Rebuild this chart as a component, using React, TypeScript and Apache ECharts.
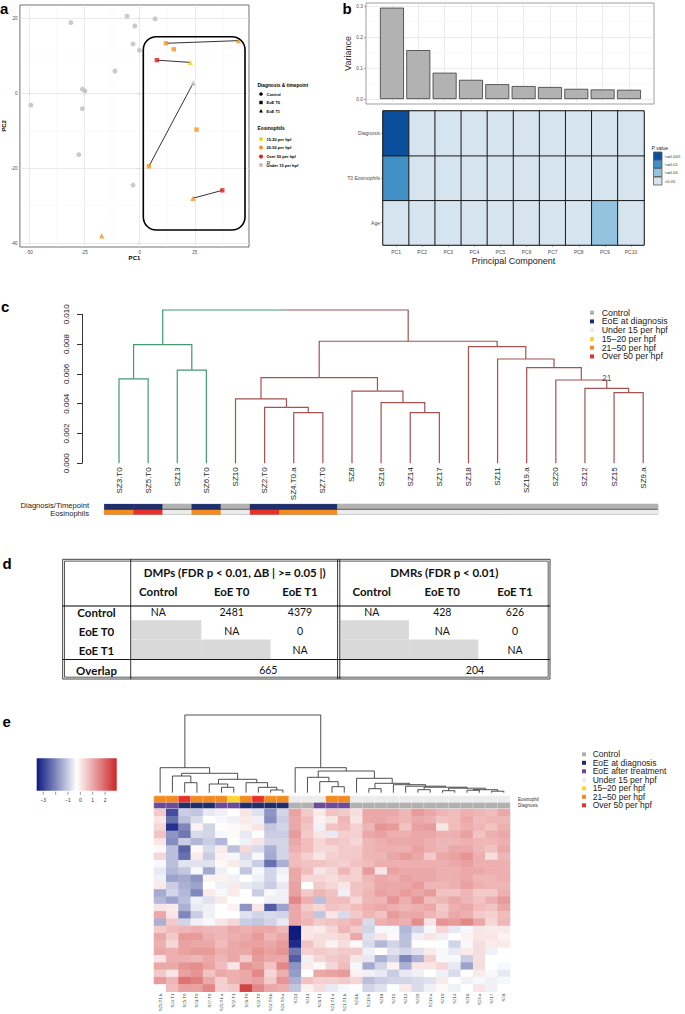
import React, { useEffect, useRef } from "react";
import * as echarts from "echarts";

const FONT = '"Liberation Sans", Arial, Helvetica, sans-serif';
const TFONT = 'Lato, "Open Sans", "Liberation Sans", sans-serif';

// ================= Panel a : PCA =================
const pcaPC1 = [-31.2, -5.7, 7.0, -2.2, -3.0, -0.1, -11.2, -26.0, -24.8, -49.3, -26.0, -27.6, -3.0, 11.9, 15.5, 25.8, 4.2, 7.8, 37.5, 44.8, 23.0, 24.2, -17.2, 24.3];
const pcaPC2 = [18.8, 20.5, 19.8, 17.9, 13.1, 11.4, 5.9, 1.1, 0.6, -3.2, -4.1, -16.4, -24.5, 13.3, 11.7, -9.7, -19.5, 8.8, -25.9, 14.0, 8.2, -28.0, -38.0, 2.7];
const pcaDiagnosis = [
  "Control", "Control", "Control", "Control", "Control", "Control", "Control", "Control", "Control", "Control", "Control", "Control", "Control",
  "EoE T0", "EoE T0", "EoE T0", "EoE T0", "EoE T0", "EoE T0",
  "EoE T1", "EoE T1", "EoE T1", "EoE T1", "EoE T1",
];
const pcaEosinophils = [
  "Under 15 per hpf", "Under 15 per hpf", "Under 15 per hpf", "Under 15 per hpf", "Under 15 per hpf", "Under 15 per hpf", "Under 15 per hpf",
  "Under 15 per hpf", "Under 15 per hpf", "Under 15 per hpf", "Under 15 per hpf", "Under 15 per hpf", "Under 15 per hpf",
  "20-50 per hpf", "20-50 per hpf", "20-50 per hpf", "20-50 per hpf", "Over 50 per hpf", "Over 50 per hpf",
  "20-50 per hpf", "15-20 per hpf", "20-50 per hpf", "20-50 per hpf", "Under 15 per hpf",
];
const pcaLinks = [[13, 19], [17, 20], [16, 23], [18, 21]];
const pcaXTicks = [-50, -25, 0, 25];
const pcaYTicks = [-40, -20, 0, 20];
const pcaDiagLevels = ["Control", "EoE T0", "EoE T1"];
const pcaEosLevels = ["15-20 per hpf", "20-50 per hpf", "Over 50 per hpf", "Under 15 per hpf"];
const eosColorA: Record<string, string> = {
  "15-20 per hpf": "#f3d21b",
  "20-50 per hpf": "#f7941d",
  "Over 50 per hpf": "#e31e1e",
  "Under 15 per hpf": "#bebebe",
};
const diagSymbolA: Record<string, string> = { Control: "circle", "EoE T0": "rect", "EoE T1": "triangle" };

// ================= Panel b : variance + association =================
const pcNames = ["PC1", "PC2", "PC3", "PC4", "PC5", "PC6", "PC7", "PC8", "PC9", "PC10"];
const pcVariance = [0.295, 0.158, 0.085, 0.062, 0.048, 0.042, 0.039, 0.033, 0.031, 0.030];
const varTicks = [0, 0.1, 0.2, 0.3];
const covariates = ["Age", "T0 Eosinophils", "Diagnosis"]; // bottom -> top
const pClassAge = [3, 3, 3, 3, 3, 3, 3, 3, 2, 3];
const pClassEos = [1, 3, 3, 3, 3, 3, 3, 3, 3, 3];
const pClassDiag = [0, 3, 3, 3, 3, 3, 3, 3, 3, 3];
const pLevels = ["<=0.005", "<=0.01", "<=0.05", ">0.05"];
const pColors = ["#0b4f9c", "#4090c5", "#93c3df", "#d5e4ef"];

// ================= Panel c : dendrogram =================
const cLeaves = ["SZ3.T0", "SZ5.T0", "SZ13", "SZ6.T0", "SZ10", "SZ2.T0", "SZ4.T0.a", "SZ7.T0", "SZ8", "SZ16", "SZ14", "SZ17", "SZ18", "SZ11", "SZ19.a", "SZ20", "SZ12", "SZ15", "SZ9.a"];
// hclust style merges: negative = leaf (-(i+1)), positive = earlier merge (1-based)
const cMerges: [number, number, number][] = [
  [-1, -2, 0.00566], [-3, -4, 0.00626], [1, 2, 0.00796],
  [-7, -8, 0.0034], [-6, 4, 0.00376], [-5, 5, 0.00432],
  [-11, -12, 0.0034], [-10, 7, 0.00407], [-9, 8, 0.00485], [6, 9, 0.00575],
  [-18, -19, 0.00474], [-17, 11, 0.00503], [-16, 12, 0.00559], [-15, 13, 0.00642], [-14, 14, 0.007], [-13, 15, 0.00783],
  [10, 16, 0.00819], [3, 17, 0.01029],
];
const cLeafCluster = ["g", "g", "g", "g", "r", "r", "r", "r", "r", "r", "r", "r", "r", "r", "r", "r", "r", "r", "r"];
const cNodeLabelMerge = 12;
const cNodeLabelText = "21";
const cDiagnosis = ["EoE at diagnosis", "EoE at diagnosis", "Control", "EoE at diagnosis", "Control", "EoE at diagnosis", "EoE at diagnosis", "EoE at diagnosis",
  "Control", "Control", "Control", "Control", "Control", "Control", "Control", "Control", "Control", "Control", "Control"];
const cEosinophils = ["21–50 per hpf", "Over 50 per hpf", "Under 15 per hpf", "21–50 per hpf", "Under 15 per hpf", "Over 50 per hpf", "21–50 per hpf", "21–50 per hpf",
  "Under 15 per hpf", "Under 15 per hpf", "Under 15 per hpf", "Under 15 per hpf", "Under 15 per hpf", "Under 15 per hpf", "Under 15 per hpf", "Under 15 per hpf",
  "Under 15 per hpf", "Under 15 per hpf", "Under 15 per hpf"];
const cBarRows = ["Eosinophils", "Diagnosis/Timepoint"]; // bottom -> top
const cLegendNames = ["Control", "EoE at diagnosis", "Under 15 per hpf", "15–20 per hpf", "21–50 per hpf", "Over 50 per hpf"];
const annNames = ["Control", "EoE at diagnosis", "EoE after treatment", "Under 15 per hpf", "15–20 per hpf", "21–50 per hpf", "Over 50 per hpf"];
const annColors = ["#b1b1b1", "#1f2e6c", "#6b4b9b", "#ececec", "#ffd52e", "#f58b1e", "#e7312a"];

// ================= Panel d : table =================
const tSections = ["DMPs (FDR p < 0.01, ΔB | >= 0.05 |)", "DMRs (FDR p < 0.01)"];
const tGroups = ["Control", "EoE T0", "EoE T1"];
const tDMP = [["NA", "2481", "4379"], ["", "NA", "0"], ["", "", "NA"]];
const tDMR = [["NA", "428", "626"], ["", "NA", "0"], ["", "", "NA"]];
const tOverlap = ["665", "204"];

// ================= Panel e : heatmap =================
const eSamples = ["SZ5.T1.b", "SZ4.T1", "SZ5.T0", "SZ3.T0", "SZ7.T0", "SZ5.T1.a", "SZ2.T1", "SZ6.T0", "SZ2.T0", "SZ4.T0.b", "SZ4.T0.a",
  "SZ11", "SZ13", "SZ6.T1", "SZ1.T1.a", "SZ1.T1.b", "SZ8.b", "SZ19.b", "SZ18", "SZ15", "SZ12", "SZ20", "SZ19.a", "SZ10", "SZ14", "SZ16", "SZ9.a", "SZ17", "SZ8"];
const eDiagnosis = ["EoE after treatment", "EoE after treatment", "EoE at diagnosis", "EoE at diagnosis", "EoE at diagnosis", "EoE after treatment", "EoE after treatment",
  "EoE at diagnosis", "EoE at diagnosis", "EoE at diagnosis", "EoE at diagnosis", "Control", "Control", "EoE after treatment", "EoE after treatment", "EoE after treatment",
  "Control", "Control", "Control", "Control", "Control", "Control", "Control", "Control", "Control", "Control", "Control", "Control", "Control"];
const eEosinophil = ["21–50 per hpf", "21–50 per hpf", "Over 50 per hpf", "21–50 per hpf", "21–50 per hpf", "21–50 per hpf", "15–20 per hpf", "21–50 per hpf",
  "Over 50 per hpf", "21–50 per hpf", "21–50 per hpf", "Under 15 per hpf", "Under 15 per hpf", "Under 15 per hpf", "21–50 per hpf", "21–50 per hpf",
  "Under 15 per hpf", "Under 15 per hpf", "Under 15 per hpf", "Under 15 per hpf", "Under 15 per hpf", "Under 15 per hpf", "Under 15 per hpf", "Under 15 per hpf",
  "Under 15 per hpf", "Under 15 per hpf", "Under 15 per hpf", "Under 15 per hpf", "Under 15 per hpf"];
const eAnnRows = ["Diagnosis", "Eosinophil"]; // bottom -> top
const eLegendNames = ["Control", "EoE at diagnosis", "EoE after treatment", "Under 15 per hpf", "15–20 per hpf", "21–50 per hpf", "Over 50 per hpf"];
// one array of 25 probe values per sample (column), top row first
const eHeat: number[][] = [
  [0.5, 0.1, 0.3, 0.6, 0.1, -0.2, 0.3, -0.4, -0.6, -0.5, 0.0, -1.5, -1.3, 0.1, 1.0, -1.4, 0.5, 1.0, 0.9, 1.0, 0.1, 1.0, 0.5, 1.2, -0.3],
  [-2.8, -2.3, -3.2, -1.8, -1.9, -1.2, -1.2, -1.2, -1.3, -1.6, -1.0, -0.9, -1.6, 0.0, 0.1, 0.5, 0.7, 0.5, 0.3, 0.9, 0.9, 1.0, 0.1, 0.8, 0.7],
  [-1.0, -1.2, -2.0, -2.2, -1.0, -2.5, -2.3, -0.7, -1.1, -1.5, -1.4, -1.3, -1.2, -1.4, -2.0, -0.9, 0.8, 1.2, 1.1, 1.1, 0.9, 1.3, 1.1, 1.8, 1.1],
  [-1.1, -0.8, -0.1, -0.8, -1.3, -0.2, 0.0, -0.7, -0.4, -1.8, -1.6, -2.0, -0.5, -0.6, -1.0, -0.5, 0.9, 1.2, 1.0, 1.2, 0.8, 1.4, 1.3, 1.6, 1.1],
  [-0.6, -0.3, -0.9, -0.9, -1.0, -0.8, -1.0, -0.7, -1.5, -0.1, -0.3, 0.0, -0.7, -0.5, -0.5, -0.4, 0.8, 0.9, 1.0, 1.2, 1.0, 1.1, 0.6, 1.0, 1.5],
  [-0.5, -0.4, -0.3, -0.4, -1.3, 0.0, -0.1, -0.2, -0.5, -0.1, -0.5, -0.4, 0.0, -0.3, -0.3, 0.1, 0.8, 0.8, 0.7, 0.9, 0.8, 0.7, 1.0, 0.4, 0.4],
  [-0.3, -0.5, -0.2, -0.2, -0.3, -1.2, -0.4, 0.0, -0.3, -0.5, 0.0, 0.0, -0.3, -0.1, -0.3, 0.3, 1.0, 0.9, 1.0, 1.0, 1.0, 0.1, 0.9, 0.9, 0.5],
  [0.1, 0.0, -0.1, -0.6, -0.5, 0.3, -0.8, -0.6, -1.1, -0.3, -0.6, -0.3, -0.3, -1.8, -0.7, -1.0, 0.9, 1.0, 1.1, 1.0, 0.5, 1.3, 1.0, 1.0, 2.5],
  [-0.7, -0.5, 0.1, -0.3, 0.1, -0.8, -0.4, -1.0, -0.4, -0.5, -0.7, -1.0, -0.3, 0.1, -0.9, -1.1, 1.0, 1.2, 1.1, 1.3, 1.2, 1.1, 1.5, 1.1, 1.5],
  [-1.8, -1.9, -1.1, -1.0, -0.9, -1.4, -1.5, -2.3, -0.9, -0.9, -1.0, -0.4, -0.5, -2.6, -0.8, -0.9, 1.0, 0.8, 1.0, 1.1, 1.0, 0.6, 0.3, 0.5, 1.0],
  [-0.9, -1.0, -0.9, -1.0, -0.9, -0.9, -0.9, -1.4, -0.5, -0.4, -0.6, -0.5, -0.5, -1.6, -0.9, -0.6, 0.8, 1.0, 1.2, 1.3, 1.0, 1.5, 0.9, 1.3, 0.9],
  [1.1, 1.0, 1.0, 1.2, 1.0, 0.9, 0.7, 0.7, 1.0, 1.0, 1.1, 1.1, 1.5, 1.0, 1.0, 1.0, -3.6, -3.5, -3.3, -2.2, -2.6, -1.8, -1.7, -1.4, -1.1],
  [0.5, 0.7, 0.6, 0.5, 0.7, 0.7, 0.4, 0.6, 0.7, 0.3, -0.3, 0.5, 0.9, 0.5, 0.7, 0.8, 0.1, 0.1, 0.6, 0.4, -0.5, 0.0, -0.3, 0.6, -0.1],
  [0.0, -0.1, -0.5, 0.1, 0.3, 0.3, 0.1, 0.6, 0.1, 0.3, 0.5, 0.8, -1.2, 0.3, -1.1, 0.5, 0.0, 0.2, 0.2, 0.5, 0.3, -0.2, 1.0, 0.4, 0.2],
  [0.6, 0.1, 0.6, -0.6, 0.6, 0.3, 0.4, 0.5, 0.3, 0.2, 0.3, 0.6, 0.7, 0.6, 0.1, 0.6, 0.3, 0.2, -0.1, 0.4, 0.5, 0.3, 1.1, 0.4, -0.6],
  [0.5, 0.8, 0.7, 0.4, 0.5, 0.5, 0.5, 0.4, 0.8, 0.4, 0.1, -0.5, 0.7, 0.5, -0.8, 0.7, 0.8, 0.3, 0.2, 0.5, 0.6, 0.7, 1.2, 0.5, -0.4],
  [0.2, 0.1, 0.4, 0.4, 0.3, 0.5, 0.5, 0.6, 0.4, 0.4, 0.6, 0.6, 0.3, 0.7, 0.5, 0.9, 0.5, 1.0, -0.2, 0.5, 0.1, -0.4, -0.1, 0.3, -0.3],
  [1.0, 1.0, 0.8, 1.0, 0.8, 0.8, 0.8, 0.7, 1.2, 0.8, 0.7, 0.8, 0.8, 0.9, 0.8, -0.8, -0.9, -0.7, -0.8, -0.5, -0.6, -1.5, -0.5, -1.2, -0.9],
  [1.0, 1.0, 1.3, 1.1, 0.9, 0.9, 0.8, 0.9, 0.1, 1.0, 1.0, 1.1, 0.8, 1.0, 0.6, 0.9, -0.4, 0.1, -1.3, -0.3, -1.4, -0.9, -0.6, -1.0, -0.7],
  [1.0, 0.9, 1.2, 0.9, 1.0, 0.9, 1.0, 0.9, 1.1, 0.9, 1.0, 1.0, 1.3, 0.9, 1.2, 1.0, -0.4, -0.2, -0.9, -0.7, -1.0, -0.1, -1.0, -0.9, -0.3],
  [0.8, 0.8, 0.6, 0.9, 1.0, 0.9, 1.2, 0.9, 1.0, 1.1, 1.0, 1.2, 0.9, 0.8, 1.0, 0.9, -1.3, -1.2, -1.2, -0.9, -2.0, -1.4, -0.6, -0.9, 0.0],
  [1.2, 1.0, 1.1, 1.0, 1.0, 1.1, 1.0, 0.9, 1.0, 1.0, 1.2, 1.0, 1.3, 0.9, 1.0, 1.4, -0.9, -0.5, -0.3, -0.7, -1.4, 0.1, -0.5, -0.8, -0.8],
  [1.0, 0.9, 1.2, 1.0, 0.9, 0.9, 0.5, 0.9, 1.0, 1.0, 0.8, 1.2, 0.7, 1.0, 0.8, 0.1, -0.4, 0.1, -0.3, 0.0, 0.4, 0.1, -0.3, -0.7, -0.5],
  [0.8, 0.6, 0.1, 0.9, 0.8, 0.8, 1.0, 0.9, 0.9, 0.9, 0.8, 0.6, 0.8, 0.5, 0.6, 1.3, 0.3, -0.5, -0.3, -0.4, -0.4, 0.3, -0.5, 0.0, -0.2],
  [0.7, 0.7, 0.7, 0.9, 0.8, 1.0, 1.1, 1.0, 0.9, 0.9, 0.9, 0.6, 1.0, 0.9, 1.0, 1.2, -0.6, -0.3, -0.9, -0.6, -0.4, -0.6, -0.8, -0.3, -0.5],
  [0.9, 1.0, 0.9, 1.1, 0.9, 1.0, 1.3, 1.1, 1.0, 1.0, 1.1, 0.8, 0.8, 1.0, 0.9, 1.5, -0.4, -0.1, -0.4, 0.0, -1.0, -1.6, -0.3, -0.5, -0.3],
  [0.8, 0.7, 0.8, 0.6, 0.8, 0.8, 0.9, 0.9, 1.0, 0.8, 0.9, 0.5, 0.6, 0.7, 0.5, 1.0, 0.1, 0.1, 0.2, 0.2, 0.2, 0.2, 0.0, -0.4, 0.1],
  [0.7, 0.8, 0.6, 0.9, 0.8, 0.6, 0.2, 0.9, 0.9, 0.8, 0.8, 0.5, 0.9, 0.6, 0.4, 0.3, 0.0, 0.1, 0.0, -0.5, -0.3, -0.3, -0.4, -0.5, -0.5],
  [1.0, 0.8, 0.9, 1.0, 0.9, 1.0, 0.8, 0.9, 0.9, 0.9, 0.8, 0.9, 1.2, 1.0, 0.7, 0.8, 0.0, -0.1, 0.0, -0.3, -0.3, -0.4, -0.6, -0.4, -0.3],
];
// column dendrogram (leaf -1 = SZ5.T1.b ... -29 = SZ8), heights in key units
const eColMerges: [number, number, number][] = [
  [-10, -11, 2.7], [-9, 1, 5.4], [-8, 2, 10], [-6, -7, 5.4], [-5, 4, 8.7], [5, 3, 13.4], [-3, -4, 10], [-2, 7, 16.7], [8, 6, 19.4], [-1, 9, 25],
  [-15, -16, 6], [-14, 11, 11], [-13, 12, 15.4],
  [-18, -19, 4], [-22, -23, 3], [-24, -25, 2], [-26, -27, 2.5], [-28, -29, 1.5], [17, 18, 3], [16, 19, 4.5], [15, 20, 5.5], [-21, 21, 6.5], [-20, 22, 8],
  [14, 23, 9.4], [-17, 24, 14.4], [13, 25, 21.7], [-12, 26, 25], [10, 27, 77.7],
];
const eKeyTicks = [-3, -2, -1, 0, 1, 2];
const eKeyLabels = ["−3", "", "−1", "0", "1", "2"];
const eMin = -3.53;
const eMax = 2.94;

// ---------- helpers ----------
function dendro(merges: [number, number, number][], leafColor: (i: number) => string) {
  const nodes: { x: number; h: number; c: string }[] = [];
  const get = (r: number) => (r < 0 ? { x: -r - 1, h: 0, c: leafColor(-r - 1) } : nodes[r - 1]);
  const segs: any[] = [];
  merges.forEach(([a, b, h]) => {
    const A = get(a);
    const B = get(b);
    const x = (A.x + B.x) / 2;
    segs.push({ coords: [[A.x, A.h], [A.x, h], [x, h]], lineStyle: { color: A.c } });
    segs.push({ coords: [[x, h], [B.x, h], [B.x, B.h]], lineStyle: { color: B.c } });
    nodes.push({ x, h, c: A.c === B.c ? A.c : "#333" });
  });
  return { nodes, segs };
}

function gridMarks(xMaj: number[], xMin: number[], yMaj: number[], yMin: number[]) {
  const maj = { color: "#e2e2e2", width: 0.7, type: "solid" };
  const mn = { color: "#f0f0f0", width: 0.4, type: "solid" };
  return [
    ...xMaj.map((v) => ({ xAxis: v, lineStyle: maj })),
    ...xMin.map((v) => ({ xAxis: v, lineStyle: mn })),
    ...yMaj.map((v) => ({ yAxis: v, lineStyle: maj })),
    ...yMin.map((v) => ({ yAxis: v, lineStyle: mn })),
  ];
}

function buildOption() {
  const g: any[] = [];
  const txt = (x: number, y: number, text: string, st: any = {}) =>
    g.push({ type: "text", x, y, silent: true, z: 50, style: { text, fontFamily: FONT, fontSize: 8, fill: "#000", align: "left", verticalAlign: "middle", ...st } });
  const rect = (x: number, y: number, w: number, h: number, st: any) =>
    g.push({ type: "rect", silent: true, z: 40, shape: { x, y, width: w, height: h }, style: st });
  const line = (x1: number, y1: number, x2: number, y2: number, st: any) =>
    g.push({ type: "line", silent: true, z: 45, shape: { x1, y1, x2, y2 }, style: { stroke: "#000", lineWidth: 0.8, ...st } });
  const annColor = (n: string) => annColors[annNames.indexOf(n)];

  // panel letters
  const letter = { fontSize: 15, fontWeight: "bold", verticalAlign: "bottom", fontFamily: FONT };
  txt(0, 16, "a", letter);
  txt(342.5, 16, "b", letter);
  txt(1, 314, "c", letter);
  txt(2.5, 571, "d", letter);
  txt(2.5, 729, "e", letter);

  // ---- panel a legend & box ----
  txt(257.5, 85, "Diagnosis & timepoint", { fontSize: 4.8, fontWeight: "bold" });
  const aSymY = [94, 102.5, 111];
  g.push({ type: "circle", silent: true, z: 40, shape: { cx: 261, cy: aSymY[0], r: 1.8 }, style: { fill: "#000" } });
  rect(259.3, aSymY[1] - 1.7, 3.4, 3.4, { fill: "#000" });
  g.push({ type: "polygon", silent: true, z: 40, shape: { points: [[261, aSymY[2] - 2], [259, aSymY[2] + 1.5], [263, aSymY[2] + 1.5]] }, style: { fill: "#000" } });
  pcaDiagLevels.forEach((n, i) => txt(266.5, aSymY[i], n, { fontSize: 4, fontWeight: "bold" }));
  txt(257.5, 128.5, "Eosinophils", { fontSize: 4.8, fontWeight: "bold" });
  const aEosY = [139, 147.5, 156.5, 165];
  pcaEosLevels.forEach((n, i) => {
    g.push({ type: "circle", silent: true, z: 40, shape: { cx: 261, cy: aEosY[i], r: 2 }, style: { fill: eosColorA[n] } });
    txt(266.5, aEosY[i], n, { fontSize: 4, fontWeight: "bold" });
  });
  txt(266.8, 162.3, "21", { fontSize: 3, fontWeight: "bold" });
  g.push({ type: "rect", silent: true, z: 30, shape: { x: 143.3, y: 36.7, width: 101.7, height: 193.3, r: 13 }, style: { fill: "none", stroke: "#000", lineWidth: 1.6 } });

  // ---- panel b p-value legend ----
  txt(651.5, 147.5, "P value", { fontSize: 5, fill: "#222" });
  const keyY = [152, 160, 168.5, 177];
  pLevels.forEach((n, i) => {
    rect(653.5, keyY[i], 8.5, 8, { fill: pColors[i], stroke: "#555", lineWidth: 0.8 });
    txt(664.5, keyY[i] + 4, n, { fontSize: 4.3, fill: "#333" });
  });

  // ---- panel c legend & bar labels ----
  cLegendNames.forEach((n, i) => {
    const y = 312.7 + i * 8.75;
    rect(590, y - 2, 4, 4, { fill: annColor(n) });
    txt(601.7, y, n, { fontSize: 8.8, fill: "#222" });
  });
  line(104.45, 509.3, 657.7, 509.3, { stroke: "#333", lineWidth: 0.7 });
  txt(89, 505.2, cBarRows[1], { fontSize: 7.6, align: "right", fill: "#222" });
  txt(89, 513, cBarRows[0], { fontSize: 7.6, align: "right", fill: "#222" });

  // ---- panel d table ----
  const X0 = 62.7, X1 = 130.7, X4 = 338.7, X7 = 550, Y0 = 559.3, Y2 = 606, Y5 = 659.5, Y6 = 679;
  const subEdges = [[130.7, 200.7, 270, 338.7], [340, 408.3, 477.7, 550]];
  const rowEdges = [606, 620.3, 639.5, 659.5];
  const subX = [[158.3, 231.7, 300], [371.7, 442.3, 515]];
  const rowY = [612, 631, 650];
  const bold = { fontFamily: TFONT, fontSize: 11.5, fontWeight: "bold", align: "center", fill: "#111" };
  const reg = { fontFamily: TFONT, fontSize: 10.5, align: "center", fill: "#111" };
  [tDMP, tDMR].forEach((tab, s) => {
    tab.forEach((row, r) =>
      row.forEach((v, c) => {
        if (v === "") rect(subEdges[s][c] + 0.6, rowEdges[r], subEdges[s][c + 1] - subEdges[s][c], rowEdges[r + 1] - rowEdges[r], { fill: "#d9d9d9" });
        else txt(subX[s][c], rowY[r], v, reg);
      })
    );
    tGroups.forEach((n, c) => txt(subX[s][c], 591.5, n, bold));
  });
  txt(234.7, 572.5, tSections[0], bold);
  txt(444.3, 572.5, tSections[1], bold);
  tGroups.forEach((n, r) => txt(96.5, rowY[r], n, bold));
  txt(96.5, 670, "Overlap", bold);
  txt(268.3, 670, tOverlap[0], reg);
  txt(475, 670, tOverlap[1], reg);
  rect(X0, Y0, X7 - X0, Y6 - Y0, { fill: "none", stroke: "#111", lineWidth: 0.8 });
  rect(X0 + 1.8, Y0 + 1.8, X7 - X0 - 3.6, Y6 - Y0 - 3.6, { fill: "none", stroke: "#111", lineWidth: 0.7 });
  line(X1, Y0, X1, Y6, {});
  line(X4 - 1.1, Y0, X4 - 1.1, Y6, {});
  line(X4 + 1.1, Y0, X4 + 1.1, Y6, {});
  line(X0, Y2, X7, Y2, { lineWidth: 1.1 });
  line(X0, Y5, X7, Y5, { lineWidth: 0.9 });

  // ---- panel e colour key ----
  const kx0 = 36.7, kw = 80, ky0 = 758.3, kh = 32.4;
  g.push({
    type: "rect", silent: true, z: 40, shape: { x: kx0, y: ky0, width: kw, height: kh },
    style: { fill: new echarts.graphic.LinearGradient(0, 0, 1, 0, [{ offset: 0, color: "#0c1a80" }, { offset: 0.5, color: "#ffffff" }, { offset: 1, color: "#cd2626" }]) },
  });
  eKeyTicks.forEach((v, i) => {
    const x = kx0 + ((v - eMin) / (eMax - eMin)) * kw;
    line(x, ky0 + kh + 1, x, ky0 + kh + 4, { stroke: "#333", lineWidth: 0.5 });
    if (eKeyLabels[i]) txt(x, 800, eKeyLabels[i], { fontSize: 5, align: "center", fill: "#333" });
  });
  eLegendNames.forEach((n, i) => {
    const y = 754.3 + i * 8.5;
    rect(582, y - 2, 4, 4, { fill: annColor(n) });
    txt(592.7, y, n, { fontSize: 8.5, fill: "#222" });
  });

  // ================= axes / grids / series =================
  const grids = [
    { left: 17, top: 5, width: 232, height: 242, show: true, borderColor: "#333", borderWidth: 0.7, backgroundColor: "transparent" }, // 0 a
    { left: 366, top: 3, width: 288, height: 101, show: true, borderColor: "#777", borderWidth: 0.7, backgroundColor: "transparent" }, // 1 b bars
    { left: 383, top: 111, width: 261, height: 134, show: true, borderColor: "#555", borderWidth: 1 }, // 2 b heat
    { left: 104.45, top: 314.3, width: 553.3, height: 149 }, // 3 c dendro
    { left: 104.45, top: 504.3, width: 553.3, height: 10, show: true, borderColor: "#444", borderWidth: 0.6 }, // 4 c bars
    { left: 154, top: 796, width: 356, height: 12.3 }, // 5 e ann
    { left: 154, top: 809, width: 356, height: 182.8 }, // 6 e heat
    { left: 154, top: 715, width: 356, height: 77.7 }, // 7 e dendro
  ];
  const tickLab = { fontSize: 4.5, color: "#4d4d4d", fontFamily: FONT };
  const xAxis: any[] = [
    {
      gridIndex: 0, type: "value", min: -54.3, max: 49.6, axisLine: { show: false }, splitLine: { show: false },
      axisTick: { show: true, customValues: pcaXTicks, length: 2, lineStyle: { color: "#333", width: 0.5 } },
      axisLabel: { customValues: pcaXTicks, ...tickLab, margin: 2.5 },
      name: "PC1", nameLocation: "middle", nameGap: 8, nameTextStyle: { fontSize: 6, fontWeight: "bold", color: "#000", fontFamily: FONT },
    },
    { gridIndex: 1, type: "value", min: 0.015, max: 10.95, show: false, splitLine: { show: false } },
    {
      gridIndex: 2, type: "category", data: pcNames, axisLine: { show: false },
      axisTick: { show: true, alignWithLabel: true, length: 2, lineStyle: { color: "#555", width: 0.5 } },
      axisLabel: { interval: 0, fontSize: 5, color: "#4d4d4d", margin: 4, fontFamily: FONT },
      name: "Principal Component", nameLocation: "middle", nameGap: 11, nameTextStyle: { fontSize: 9, color: "#222", fontFamily: FONT },
    },
    {
      gridIndex: 3, type: "value", min: -0.5, max: 18.5, axisLine: { show: false }, axisTick: { show: false }, splitLine: { show: false },
      axisLabel: { customValues: cLeaves.map((_, i) => i), formatter: (v: number) => cLeaves[Math.round(v)], rotate: 90, fontSize: 8, margin: 4, color: "#222", fontFamily: FONT },
    },
    { gridIndex: 4, type: "category", data: cLeaves, show: false },
    { gridIndex: 5, type: "category", data: eSamples, show: false },
    {
      gridIndex: 6, type: "category", data: eSamples, axisLine: { show: false }, axisTick: { show: false },
      axisLabel: { interval: 0, rotate: 90, fontSize: 4.2, margin: 2, color: "#333", fontFamily: FONT },
    },
    { gridIndex: 7, type: "value", min: -0.5, max: 28.5, show: false, splitLine: { show: false } },
  ];
  const yAxis: any[] = [
    {
      gridIndex: 0, type: "value", min: -41, max: 23.5, axisLine: { show: false }, splitLine: { show: false },
      axisTick: { show: true, customValues: pcaYTicks, length: 2, lineStyle: { color: "#333", width: 0.5 } },
      axisLabel: { customValues: pcaYTicks, ...tickLab, margin: 2.5 },
      name: "PC2", nameLocation: "middle", nameGap: 8, nameRotate: 90, nameTextStyle: { fontSize: 6, fontWeight: "bold", color: "#000", fontFamily: FONT },
    },
    {
      gridIndex: 1, type: "value", min: -0.016, max: 0.31, axisLine: { show: false }, splitLine: { show: false },
      axisTick: { show: true, customValues: varTicks, length: 2, lineStyle: { color: "#555", width: 0.5 } },
      axisLabel: { customValues: varTicks, formatter: (v: number) => v.toFixed(1), fontSize: 4.8, color: "#4d4d4d", margin: 3, fontFamily: FONT },
      name: "Variance", nameLocation: "middle", nameGap: 9.5, nameRotate: 90, nameTextStyle: { fontSize: 9, color: "#333", fontFamily: FONT },
    },
    {
      gridIndex: 2, type: "category", data: covariates, axisLine: { show: false },
      axisTick: { show: true, alignWithLabel: true, length: 2, lineStyle: { color: "#555", width: 0.5 } },
      axisLabel: { interval: 0, fontSize: 5, color: "#4d4d4d", margin: 3, fontFamily: FONT },
    },
    {
      gridIndex: 3, type: "value", min: 0, max: 0.01, interval: 0.002, offset: 22.45, splitLine: { show: false },
      axisLine: { show: true, onZero: false, lineStyle: { color: "#000", width: 0.8 } },
      axisTick: { show: true, length: 5, lineStyle: { color: "#000", width: 0.8 } },
      axisLabel: { rotate: 90, fontSize: 8, margin: 12, color: "#222", formatter: (v: number) => v.toFixed(3), fontFamily: FONT },
    },
    { gridIndex: 4, type: "category", data: cBarRows, show: false },
    {
      gridIndex: 5, type: "category", data: eAnnRows, position: "right", axisLine: { show: false }, axisTick: { show: false },
      axisLabel: { interval: 0, hideOverlap: false, fontSize: 4.5, margin: 8, color: "#333", fontFamily: FONT },
    },
    { gridIndex: 6, type: "category", data: eHeat[0].map((_, i) => String(i + 1)), inverse: true, show: false },
    { gridIndex: 7, type: "value", min: 0, max: 77.7, show: false, splitLine: { show: false } },
  ];

  const series: any[] = [];
  const markCfg = (data: any[]) => ({ silent: true, symbol: ["none", "none"], label: { show: false }, z: 1, animation: false, data });
  // a grid lines
  series.push({
    type: "scatter", xAxisIndex: 0, yAxisIndex: 0, data: [[0, 0]], symbolSize: 0, silent: true, z: 1,
    markLine: markCfg(gridMarks(pcaXTicks, [-37.5, -12.5, 12.5, 37.5], pcaYTicks, [-30, -10, 10])),
  });
  series.push({
    type: "lines", coordinateSystem: "cartesian2d", xAxisIndex: 0, yAxisIndex: 0, z: 2, silent: true,
    lineStyle: { color: "#000", width: 0.8, opacity: 1 },
    data: pcaLinks.map(([i, j]) => ({ coords: [[pcaPC1[i], pcaPC2[i]], [pcaPC1[j], pcaPC2[j]]] })),
  });
  pcaDiagLevels.forEach((d) => {
    const size = d === "Control" ? 5 : d === "EoE T0" ? 4.4 : 5.4;
    series.push({
      type: "scatter", xAxisIndex: 0, yAxisIndex: 0, z: 3, symbol: diagSymbolA[d], symbolSize: size, silent: true,
      data: pcaPC1.map((_, i) => i).filter((i) => pcaDiagnosis[i] === d).map((i) => ({ value: [pcaPC1[i], pcaPC2[i]], itemStyle: { color: eosColorA[pcaEosinophils[i]] } })),
    });
  });
  // b grid lines + bars
  series.push({
    type: "scatter", xAxisIndex: 1, yAxisIndex: 1, data: [[1, 0]], symbolSize: 0, silent: true, z: 1,
    markLine: markCfg(gridMarks(pcNames.map((_, i) => i + 1), [], varTicks, [0.05, 0.15, 0.25])),
  });
  series.push({
    type: "bar", xAxisIndex: 1, yAxisIndex: 1, barWidth: 24, z: 3, silent: true,
    itemStyle: { color: "#b2b2b2", borderColor: "#3a3a3a", borderWidth: 0.8 },
    data: pcVariance.map((v, i) => [i + 1, v]),
  });
  const pRows = [pClassAge, pClassEos, pClassDiag];
  const pHeatIndex = series.length;
  series.push({
    type: "heatmap", xAxisIndex: 2, yAxisIndex: 2, silent: true,
    itemStyle: { borderColor: "#1a1a1a", borderWidth: 1 },
    data: pRows.flatMap((row, r) => row.map((cl, c) => [c, r, cl])),
  });
  // c dendrogram
  const cColor: Record<string, string> = { g: "#439a6f", r: "#a45252" };
  const cd = dendro(cMerges, (i) => cColor[cLeafCluster[i]]);
  series.push({
    type: "lines", coordinateSystem: "cartesian2d", xAxisIndex: 3, yAxisIndex: 3, polyline: true, clip: false, silent: true, z: 3,
    lineStyle: { width: 1.2, opacity: 1 }, data: cd.segs,
  });
  const lab = cd.nodes[cNodeLabelMerge - 1];
  series.push({
    type: "scatter", xAxisIndex: 3, yAxisIndex: 3, symbolSize: 0, silent: true, z: 4,
    data: [[lab.x, lab.h]],
    label: { show: true, formatter: cNodeLabelText, position: "top", distance: 6, fontSize: 8.5, color: "#222", fontFamily: FONT },
  });
  const cBarIndex = series.length;
  series.push({
    type: "heatmap", xAxisIndex: 4, yAxisIndex: 4, silent: true,
    data: [
      ...cEosinophils.map((v, i) => [i, 0, annNames.indexOf(v)]),
      ...cDiagnosis.map((v, i) => [i, 1, annNames.indexOf(v)]),
    ],
  });
  // e annotations
  const eAnnIndex = series.length;
  series.push({
    type: "heatmap", xAxisIndex: 5, yAxisIndex: 5, silent: true,
    itemStyle: { borderColor: "#ffffff", borderWidth: 0.3 },
    data: [
      ...eDiagnosis.map((v, i) => [i, 0, annNames.indexOf(v)]),
      ...eEosinophil.map((v, i) => [i, 1, annNames.indexOf(v)]),
    ],
  });
  const eHeatIndex = series.length;
  series.push({
    type: "heatmap", xAxisIndex: 6, yAxisIndex: 6, silent: true,
    data: eHeat.flatMap((col, c) => col.map((v, r) => [c, r, v])),
  });
  const ed = dendro(eColMerges, () => "#222");
  series.push({
    type: "lines", coordinateSystem: "cartesian2d", xAxisIndex: 7, yAxisIndex: 7, polyline: true, clip: false, silent: true,
    lineStyle: { width: 0.8, opacity: 1 }, data: ed.segs,
  });

  return {
    animation: false,
    backgroundColor: "#ffffff",
    textStyle: { fontFamily: FONT },
    grid: grids,
    xAxis,
    yAxis,
    visualMap: [
      { type: "continuous", show: false, seriesIndex: eHeatIndex, dimension: 2, min: eMin, max: eMax, inRange: { color: ["#0c1a80", "#ffffff", "#cd2626"] } },
      { type: "piecewise", show: false, seriesIndex: pHeatIndex, dimension: 2, pieces: pColors.map((c, i) => ({ value: i, color: c })) },
      { type: "piecewise", show: false, seriesIndex: [cBarIndex, eAnnIndex], dimension: 2, pieces: annColors.map((c, i) => ({ value: i, color: c })) },
    ],
    series,
    graphic: g,
  };
}

export default function App() {
  const ref = useRef<HTMLDivElement>(null);
  useEffect(() => {
    const chart = echarts.init(ref.current as HTMLDivElement, null, { renderer: "svg" });
    chart.setOption(buildOption() as any);
    return () => chart.dispose();
  }, []);
  return <div ref={ref} style={{ position: "absolute", left: 0, top: 0, width: 685, height: 1014, background: "#fff" }} />;
}
